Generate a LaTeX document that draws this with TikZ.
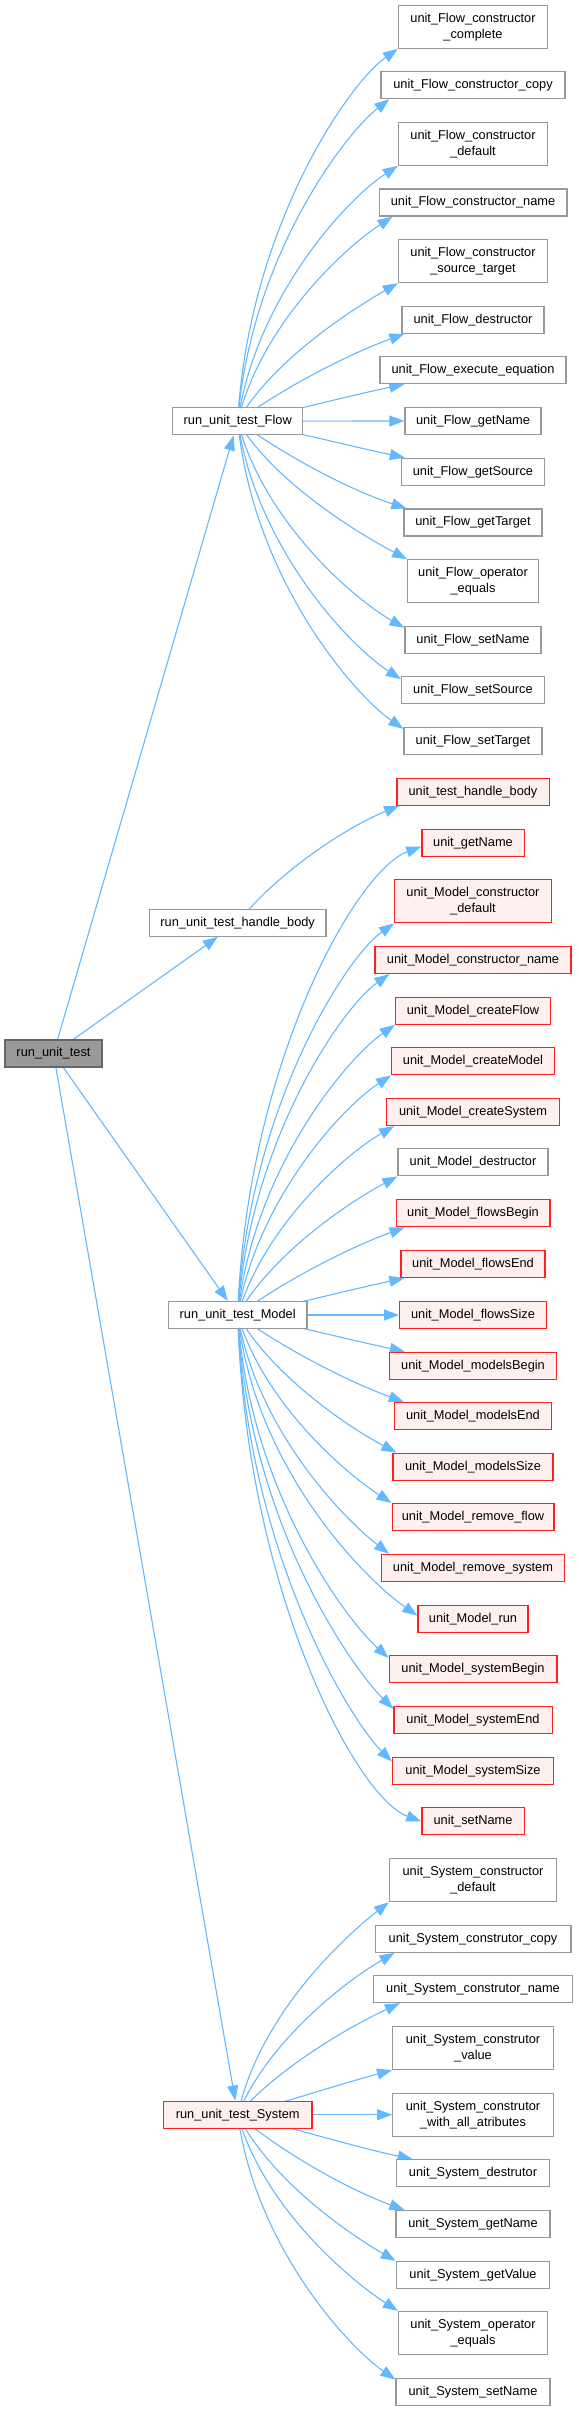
\documentclass[tikz,border=0pt]{standalone}
\usepackage{fontspec}
\setmainfont{Liberation Sans}
\usetikzlibrary{arrows.meta,calc}
\definecolor{edgeblue}{HTML}{63B8FF}
\definecolor{boxgray}{HTML}{999999}
\definecolor{boxred}{HTML}{FF2020}
\definecolor{redfill}{HTML}{FFF0F0}
\definecolor{rootfill}{HTML}{999999}
\definecolor{rootdraw}{HTML}{666666}
\pgfdeclarelayer{bg}
\pgfsetlayers{bg,main}
\newcommand\nodefont{\fontsize{12.8}{16}\selectfont}
\tikzset{
  box/.style={draw=boxgray, fill=white, line width=1.3pt, inner sep=0pt, align=center, font=\nodefont, minimum height=27pt},
  tall/.style={minimum height=43pt},
  redbox/.style={box, draw=boxred, fill=redfill},
  rootbox/.style={box, draw=rootdraw, fill=rootfill},
  edge/.style={draw=edgeblue, line width=1.1pt, -{Triangle[length=15pt,width=11pt]}}
}
\newcommand\fanedge[3]{%
  \draw[edge] let \p1=(#1.center), \p2=(#2),
     \n1={(\y2-\y1)/100},
     \n2={abs(\y2-\y1)/(abs(\y2-\y1)+60)},
     \n3={0.3*4/((\n1)*(\n1)+4)}
  in (\p1) .. controls ({\x1+\n3*(\x2-\x1)}, {\y1+0.6*\n2*(\y2-\y1)})
               and ({\x2-0.38*(\x2-\x1)*cos(#3)}, {\y2-0.38*(\x2-\x1)*sin(#3)}) .. (\p2);}
\begin{document}
\begin{tikzpicture}[x=1pt,y=-1pt]
\useasboundingbox (0,0) rectangle (578,2411);
% main nodes
\node[rootbox, minimum width=97pt] (root) at (53.5,1053.5) {run\_unit\_test};
\node[box, minimum width=130pt] (fl) at (237.7,421.3) {run\_unit\_test\_Flow};
\node[box, minimum width=176.7pt] (hb) at (237.7,922.7) {run\_unit\_test\_handle\_body};
\node[box, minimum width=138.7pt] (md) at (237.7,1315) {run\_unit\_test\_Model};
\node[redbox, minimum width=148.7pt] (sy) at (237.7,2114.7) {run\_unit\_test\_System};
% Flow children
\node[box, tall, minimum width=149pt] (fcc) at (473,26.7) {unit\_Flow\_constructor\\\_complete};
\node[box, minimum width=184pt] (fcopy) at (473,85) {unit\_Flow\_constructor\_copy};
\node[box, tall, minimum width=149pt] (fcd) at (473,143.7) {unit\_Flow\_constructor\\\_default};
\node[box, minimum width=187.7pt] (fcn) at (473,202.5) {unit\_Flow\_constructor\_name};
\node[box, tall, minimum width=149pt] (fcst) at (473,261) {unit\_Flow\_constructor\\\_source\_target};
\node[box, minimum width=142pt] (fdes) at (473,319.7) {unit\_Flow\_destructor};
\node[box, minimum width=186pt] (fexe) at (473,370) {unit\_Flow\_execute\_equation};
\node[box, minimum width=136pt] (fgn) at (473,421) {unit\_Flow\_getName};
\node[box, minimum width=143pt] (fgs) at (473,471.8) {unit\_Flow\_getSource};
\node[box, minimum width=138pt] (fgt) at (473,522.5) {unit\_Flow\_getTarget};
\node[box, tall, minimum width=130.7pt] (foe) at (473,581.3) {unit\_Flow\_operator\\\_equals};
\node[box, minimum width=136pt] (fsn) at (473,640) {unit\_Flow\_setName};
\node[box, minimum width=143pt] (fss) at (473,690.3) {unit\_Flow\_setSource};
\node[box, minimum width=138pt] (fst) at (473,741) {unit\_Flow\_setTarget};
% handle child
\node[redbox, minimum width=152.3pt] (uthb) at (473,791.7) {unit\_test\_handle\_body};
% Model children
\node[redbox, minimum width=102.3pt] (mgn) at (473,842.7) {unit\_getName};
\node[redbox, tall, minimum width=156.7pt] (mcd) at (473,901.3) {unit\_Model\_constructor\\\_default};
\node[redbox, minimum width=196pt] (mcn) at (473,960) {unit\_Model\_constructor\_name};
\node[redbox, minimum width=155pt] (mcf) at (473,1010.7) {unit\_Model\_createFlow};
\node[redbox, minimum width=162.6pt] (mcm) at (473,1061.3) {unit\_Model\_createModel};
\node[redbox, minimum width=172.6pt] (mcs) at (473,1112) {unit\_Model\_createSystem};
\node[box, minimum width=150pt] (mdes) at (473,1162.3) {unit\_Model\_destructor};
\node[redbox, minimum width=153.7pt] (mfb) at (473,1213.3) {unit\_Model\_flowsBegin};
\node[redbox, minimum width=144pt] (mfe) at (473,1264) {unit\_Model\_flowsEnd};
\node[redbox, minimum width=146.7pt] (mfs) at (473,1315) {unit\_Model\_flowsSize};
\node[redbox, minimum width=167pt] (mmb) at (473,1365.7) {unit\_Model\_modelsBegin};
\node[redbox, minimum width=157pt] (mme) at (473,1416) {unit\_Model\_modelsEnd};
\node[redbox, minimum width=160pt] (mms) at (473,1466.7) {unit\_Model\_modelsSize};
\node[redbox, minimum width=161.7pt] (mrf) at (473,1517) {unit\_Model\_remove\_flow};
\node[redbox, minimum width=182.6pt] (mrs) at (473,1568) {unit\_Model\_remove\_system};
\node[redbox, minimum width=110pt] (mrun) at (473,1618.7) {unit\_Model\_run};
\node[redbox, minimum width=167.7pt] (msb) at (473,1669) {unit\_Model\_systemBegin};
\node[redbox, minimum width=158.3pt] (mse) at (473,1720) {unit\_Model\_systemEnd};
\node[redbox, minimum width=161pt] (mss) at (473,1770.7) {unit\_Model\_systemSize};
\node[redbox, minimum width=102.3pt] (msn) at (473,1821.3) {unit\_setName};
% System children
\node[box, tall, minimum width=167pt] (scd) at (473,1880) {unit\_System\_constructor\\\_default};
\node[box, minimum width=195.7pt] (scc) at (473,1938.7) {unit\_System\_construtor\_copy};
\node[box, minimum width=199pt] (scn) at (473,1989) {unit\_System\_construtor\_name};
\node[box, tall, minimum width=160.6pt] (scv) at (473,2048) {unit\_System\_construtor\\\_value};
\node[box, tall, minimum width=160.6pt] (scw) at (473,2114.7) {unit\_System\_construtor\\\_with\_all\_atributes};
\node[box, minimum width=153.3pt] (sdes) at (473,2173.3) {unit\_System\_destrutor};
\node[box, minimum width=154pt] (sgn) at (473,2224) {unit\_System\_getName};
\node[box, minimum width=153.3pt] (sgv) at (473,2275) {unit\_System\_getValue};
\node[box, tall, minimum width=149pt] (soe) at (473,2333) {unit\_System\_operator\\\_equals};
\node[box, minimum width=154pt] (ssn) at (473,2391.7) {unit\_System\_setName};
\begin{pgfonlayer}{bg}
% root edges
\draw[edge] (root) -- (fl);
\draw[edge] (root) -- (hb);
\draw[edge] (root) -- (md);
\draw[edge] (root) -- (sy);
% Flow
\fanedge{fl}{fcc.south west}{35}
\fanedge{fl}{[xshift=9pt]fcopy.south west}{38}
\fanedge{fl}{fcd.south west}{33}
\fanedge{fl}{[xshift=14pt]fcn.south west}{33}
\fanedge{fl}{fcst.south west}{30}
\fanedge{fl}{[xshift=3pt]fdes.south west}{20}
\fanedge{fl}{[xshift=25pt]fexe.south west}{12}
\fanedge{fl}{fgn.west}{0}
\fanedge{fl}{[xshift=4pt]fgs.north west}{-12}
\fanedge{fl}{[xshift=3pt]fgt.north west}{-18}
\fanedge{fl}{foe.north west}{-28}
\fanedge{fl}{[yshift=-2pt]fsn.north west}{-30}
\fanedge{fl}{[yshift=-3pt]fss.north west}{-33}
\fanedge{fl}{[yshift=-2pt]fst.north west}{-35}
% handle body
\fanedge{hb}{[xshift=3pt]uthb.south west}{22}
% Model
\fanedge{md}{[yshift=-4pt]mgn.west}{20}
\fanedge{md}{mcd.south west}{35}
\fanedge{md}{[xshift=15pt]mcn.south west}{35}
\fanedge{md}{mcf.south west}{35}
\fanedge{md}{mcm.south west}{33}
\fanedge{md}{[xshift=8pt]mcs.south west}{30}
\fanedge{md}{mdes.south west}{28}
\fanedge{md}{[xshift=9pt]mfb.south west}{20}
\fanedge{md}{[xshift=4pt]mfe.south west}{12}
\fanedge{md}{mfs.west}{0}
\fanedge{md}{[xshift=16pt]mmb.north west}{-12}
\fanedge{md}{[xshift=10pt]mme.north west}{-20}
\fanedge{md}{[xshift=4pt]mms.north west}{-28}
\fanedge{md}{mrf.north west}{-33}
\fanedge{md}{[xshift=8pt]mrs.north west}{-38}
\fanedge{md}{[yshift=3pt]mrun.west}{-35}
\fanedge{md}{[yshift=-3pt]msb.north west}{-42}
\fanedge{md}{[yshift=-3pt]mse.north west}{-45}
\fanedge{md}{[yshift=-5pt]mss.north west}{-45}
\fanedge{md}{msn.west}{-20}
% System
\fanedge{sy}{scd.south west}{38}
\fanedge{sy}{[xshift=20pt]scc.south west}{30}
\fanedge{sy}{[xshift=27pt]scn.south west}{25}
\fanedge{sy}{scv.south west}{15}
\fanedge{sy}{scw.west}{0}
\fanedge{sy}{[xshift=17pt]sdes.north west}{-12}
\fanedge{sy}{[xshift=9pt]sgn.north west}{-20}
\fanedge{sy}{sgv.north west}{-30}
\fanedge{sy}{soe.north west}{-33}
\fanedge{sy}{[yshift=-2pt]ssn.north west}{-35}
\end{pgfonlayer}
\end{tikzpicture}
\end{document}
